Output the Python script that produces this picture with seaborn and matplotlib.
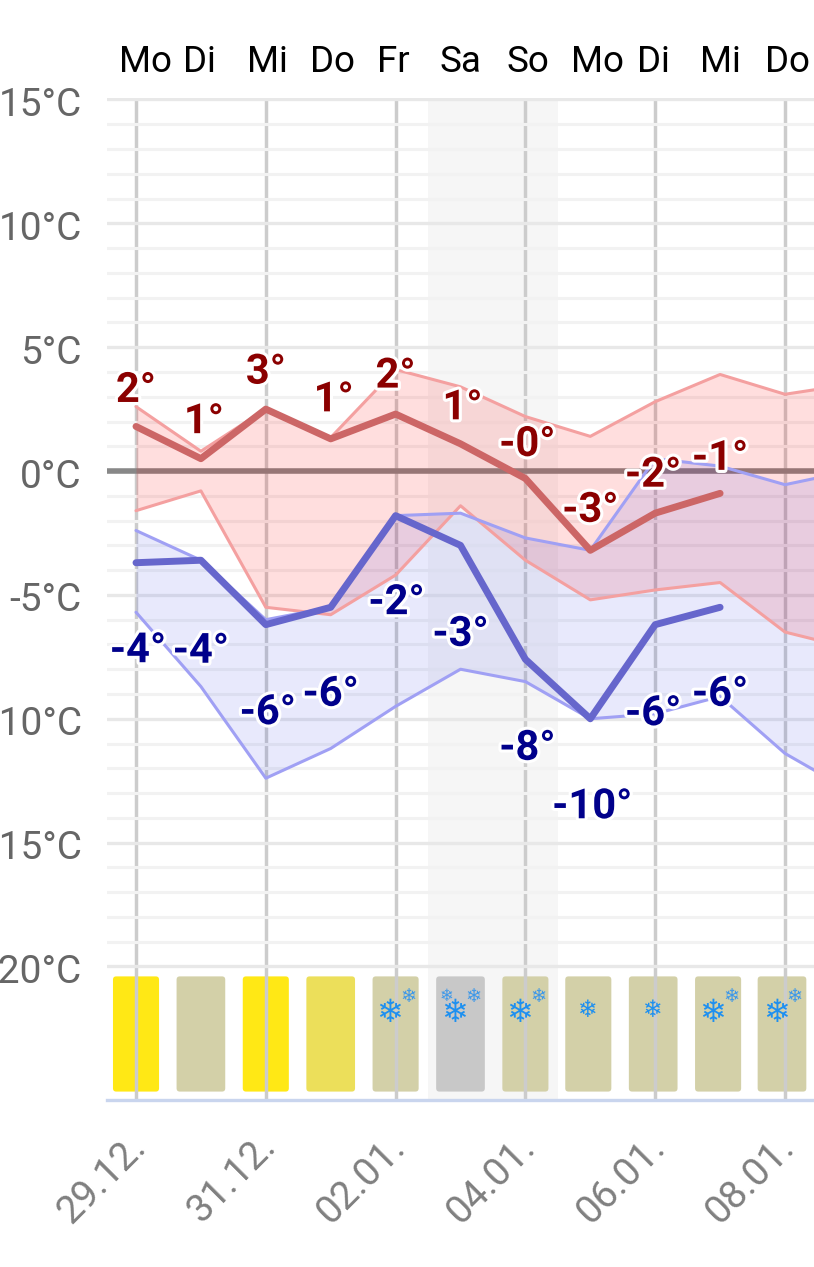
import numpy as np
import pandas as pd
import matplotlib
matplotlib.use('Agg')
import matplotlib.pyplot as plt
import matplotlib.patheffects as pe
from matplotlib.patches import FancyBboxPatch
from matplotlib.transforms import ScaledTranslation
import seaborn as sns

# forecast days, 0 = 29.12.
days = [0, 1, 2, 3, 4, 5, 6, 7, 8, 9, 10, 11]
weekdays = ['Mo', 'Di', 'Mi', 'Do', 'Fr', 'Sa', 'So', 'Mo', 'Di', 'Mi', 'Do']
dates = ['29.12.', '31.12.', '02.01.', '04.01.', '06.01.', '08.01.']

# daily max
max_mean = [1.8, 0.5, 2.5, 1.3, 2.3, 1.1, -0.3, -3.2, -1.7, -0.9]
max_upper = [2.6, 0.8, 2.5, 1.35, 4.1, 3.4, 2.2, 1.4, 2.8, 3.9, 3.1, 3.5]
max_lower = [-1.6, -0.8, -5.5, -5.8, -4.2, -1.4, -3.6, -5.2, -4.8, -4.5, -6.5, -7.15]
max_labels = ['2°', '1°', '3°', '1°', '2°', '1°', '-0°', '-3°', '-2°', '-1°']

# daily min
min_mean = [-3.7, -3.6, -6.2, -5.5, -1.8, -3.0, -7.6, -10.0, -6.2, -5.5]
min_upper = [-2.4, -3.6, -6.0, -5.5, -1.8, -1.7, -2.7, -3.2, 0.5, 0.2, -0.55, 0.0]
min_lower = [-5.7, -8.7, -12.4, -11.2, -9.5, -8.0, -8.5, -10.0, -9.8, -9.1, -11.4, -12.9]
min_labels = ['-4°', '-4°', '-6°', '-6°', '-2°', '-3°', '-8°', '-10°', '-6°', '-6°']

# sky state per day and number of snow flakes shown
sky_colors = ['#FFE815', '#D3D0A8', '#FFE815', '#ECDF5A', '#D3D0A8', '#C8C8C8',
              '#D3D0A8', '#D3D0A8', '#D3D0A8', '#D3D0A8', '#D3D0A8']
snow = [0, 0, 0, 0, 2, 3, 2, 1, 1, 2, 2]
bar_w = [0.71, 0.75, 0.71, 0.75, 0.71, 0.75, 0.71, 0.71, 0.75, 0.71, 0.75]

# small nudges of the labels, pixels
max_off = [(0, 36), (3, 37), (0, 37), (3, 39), (0, 38), (2, 36), (2, 34), (0, 40), (-2, 38), (0, 35)]
min_off = [(2, -88), (0, -91), (2, -88), (0, -87), (1, -87), (0, -89), (2, -89), (2, -88), (-2, -89), (0, -87)]
day_off = [9, -1, 2, 2, -2, 0, 3, 7, -2, 0, 3]
bar_off = [0, 0, 0, 0, 0, 0, 0, -2, -2, -2, -3]

W, H = 814, 1267
sns.set_theme(style='white')
plt.rcParams['font.family'] = ['Roboto', 'DejaVu Sans']

fig = plt.figure(figsize=(W / 100, H / 100), dpi=100)
ax = fig.add_axes([107 / W, (H - 1100) / H, (W - 107) / W, (1100 - 98) / H])
ax.set_xlim(-0.447, 10.447)
ax.set_ylim(-25.39, 15.06)
ax.set_axisbelow(True)

ax.axvspan(4.5, 6.5, color='#F6F6F6', lw=0, zorder=0.1)

# grid
ax.set_yticks(np.arange(-20, 16, 5))
ax.set_yticklabels([f'{v}°C' for v in range(-20, 16, 5)])
ax.set_yticks(np.arange(-20, 16, 1), minor=True)
ax.set_xticks(np.arange(0, 11, 2))
ax.set_xticklabels(dates, rotation=45, ha='right', rotation_mode='anchor')
ax.grid(True, axis='x', which='major', color='#CCCCCC', lw=2.5, zorder=0.5)
ax.grid(True, axis='y', which='major', color='#E8E8E8', lw=2.4)
ax.grid(True, axis='y', which='minor', color='#F2F2F2', lw=2.2)
ax.tick_params(axis='y', which='major', length=0, pad=18, labelsize=28, labelcolor='#666666')
ax.tick_params(axis='y', which='minor', length=0)
ax.tick_params(axis='x', length=0, pad=20, labelsize=28, labelcolor='#808080')
for s in ['top', 'left', 'right']:
    ax.spines[s].set_visible(False)
ax.spines['bottom'].set_color('#C9D5EE')
ax.spines['bottom'].set_linewidth(2.4)

# move the labels a little, same shift on every one
for lab in ax.get_yticklabels():
    lab.set_transform(lab.get_transform() + ScaledTranslation(0, -2 / 100, fig.dpi_scale_trans))
for lab in ax.get_xticklabels():
    lab.set_transform(lab.get_transform() + ScaledTranslation(-9 / 100, 0, fig.dpi_scale_trans))

ax.axhline(0, color='#888888', lw=4, zorder=1)

# ranges
ax.fill_between(days, max_lower, max_upper, color='#FF0000', alpha=0.13, lw=0, zorder=2)
ax.fill_between(days, min_lower, min_upper, color='#2030E8', alpha=0.10, lw=0, zorder=2.1)

band_df = pd.DataFrame({'day': days, 'max_upper': max_upper, 'max_lower': max_lower,
                        'min_upper': min_upper, 'min_lower': min_lower})
for col, c in [('max_upper', '#F4A0A0'), ('max_lower', '#F4A0A0'),
               ('min_upper', '#A0A0F4'), ('min_lower', '#A0A0F4')]:
    sns.lineplot(data=band_df, x='day', y=col, color=c, lw=2.2, ax=ax, estimator=None, zorder=3)

mean_df = pd.DataFrame({'day': days[:10], 'max_mean': max_mean, 'min_mean': min_mean})
sns.lineplot(data=mean_df, x='day', y='max_mean', color='#CC6666', lw=5, ax=ax,
             estimator=None, zorder=4, solid_capstyle='round')
sns.lineplot(data=mean_df, x='day', y='min_mean', color='#6666CC', lw=5, ax=ax,
             estimator=None, zorder=4, solid_capstyle='round')
ax.set_xlabel('')
ax.set_ylabel('')

# value labels
stroke = [pe.withStroke(linewidth=4.5, foreground='white')]
for d, v, t, o in zip(days, max_mean, max_labels, max_off):
    ax.annotate(t, (d, v), xytext=o, textcoords='offset pixels', ha='center', va='center',
                fontsize=30, fontweight='bold', color='#8B0000', path_effects=stroke, zorder=6)
for d, v, t, o in zip(days, min_mean, min_labels, min_off):
    ax.annotate(t, (d, v), xytext=o, textcoords='offset pixels', ha='center', va='center',
                fontsize=30, fontweight='bold', color='#00008B', path_effects=stroke, zorder=6)

# weekdays on top
for d, t, o in zip(days, weekdays, day_off):
    ax.annotate(t, (d, 15), xytext=(o, 37), textcoords='offset pixels', ha='center', va='center',
                fontsize=26.5, color='black', annotation_clip=False)

# sky bars with snow
for d, c, n, w, o in zip(days, sky_colors, snow, bar_w, bar_off):
    x = d + o / 64.9
    b = FancyBboxPatch((x - w / 2, -25.05), w, 4.65, boxstyle='round,pad=0,rounding_size=0.05',
                       mutation_aspect=64.9 / 24.77, fc=c, ec='none', zorder=0.3)
    ax.add_patch(b)
    if n == 1:
        ax.text(x, -21.75, '\u2744', family='DejaVu Sans', color='#1E90F0', fontsize=17,
                ha='center', va='center', zorder=5)
    if n >= 2:
        ax.text(x - 0.09, -21.9, '\u2744', family='DejaVu Sans', color='#1E90F0', fontsize=23,
                ha='center', va='center', zorder=5)
        ax.text(x + 0.2, -21.2, '\u2744', family='DejaVu Sans', color='#3E98E8', fontsize=14,
                ha='center', va='center', zorder=5)
    if n == 3:
        ax.text(x - 0.21, -21.2, '\u2744', family='DejaVu Sans', color='#3E98E8', fontsize=12,
                ha='center', va='center', zorder=5)

fig.savefig('out.png', dpi=100)
